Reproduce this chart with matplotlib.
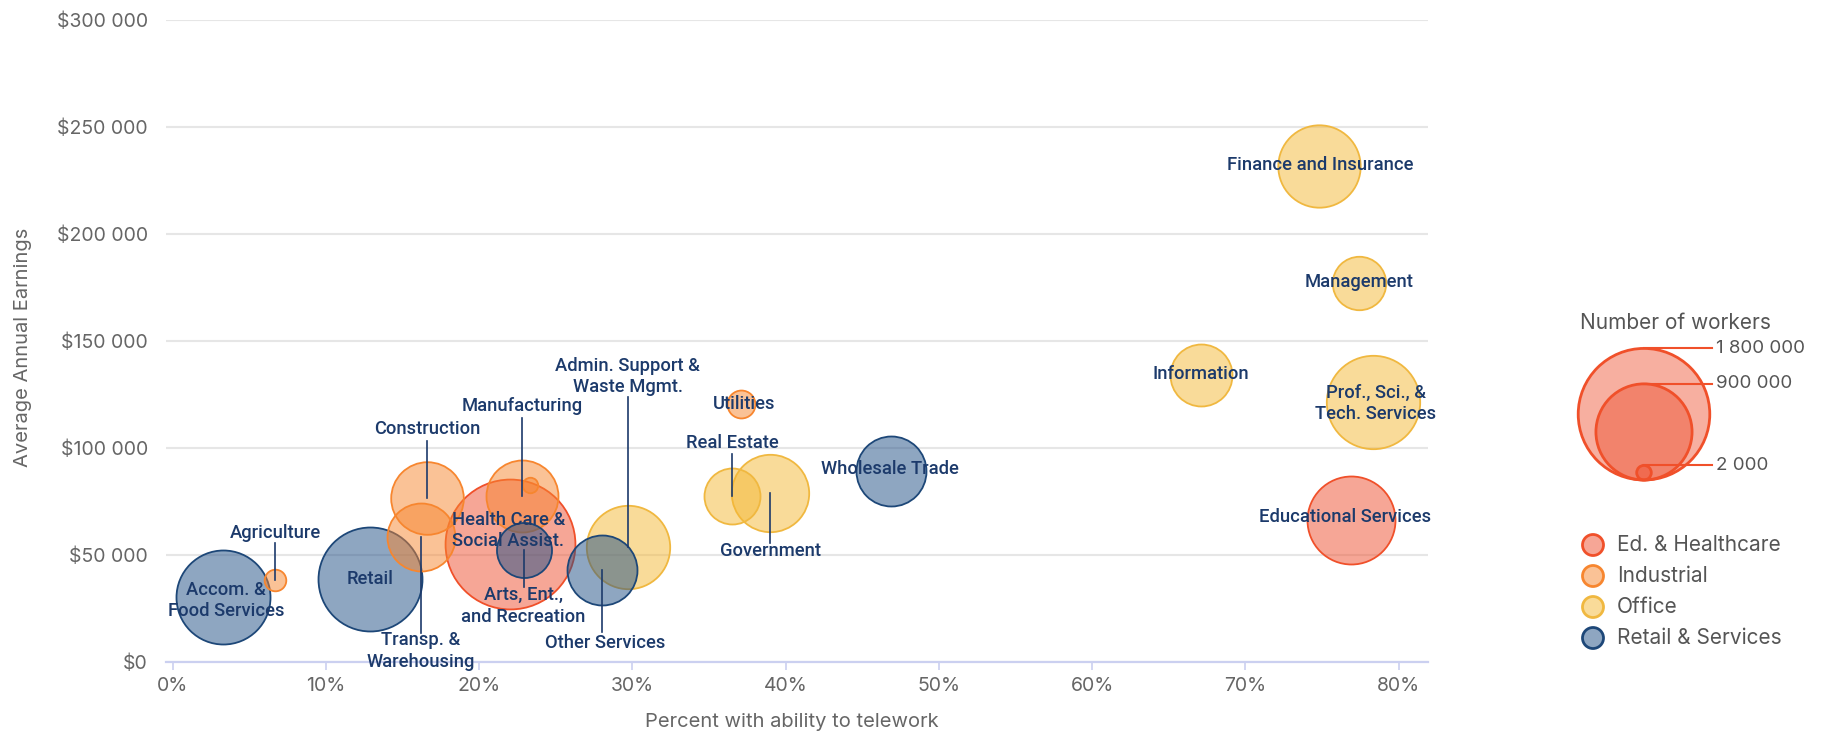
import numpy as np
import matplotlib
matplotlib.use("Agg")
import matplotlib.pyplot as plt
from matplotlib.colors import to_rgba
from matplotlib.patches import Circle

# data
names = ["Accom. &\nFood Services", "Agriculture", "Retail", "Construction",
         "Transp. &\nWarehousing", "Manufacturing", "", "Health Care &\nSocial Assist.",
         "Arts, Ent.,\nand Recreation", "Other Services", "Admin. Support &\nWaste Mgmt.",
         "Utilities", "Real Estate", "Government", "Wholesale Trade", "Information",
         "Finance and Insurance", "Management", "Prof., Sci., &\nTech. Services",
         "Educational Services"]
groups = ["Retail & Services", "Industrial", "Retail & Services", "Industrial",
          "Industrial", "Industrial", "Industrial", "Ed. & Healthcare",
          "Retail & Services", "Retail & Services", "Office",
          "Industrial", "Office", "Office", "Retail & Services", "Office",
          "Office", "Office", "Office", "Ed. & Healthcare"]
telework = [3.3, 6.7, 12.9, 16.6, 16.2, 22.8, 23.3, 22.0, 22.9, 28.0, 29.7,
            37.1, 36.5, 39.0, 46.9, 67.1, 74.8, 77.4, 78.3, 76.9]
earnings = [30100, 38200, 38500, 76400, 58400, 77600, 82600, 55000, 52200, 42900, 53500,
            120300, 77600, 78700, 89100, 134000, 231600, 176800, 121500, 66200]
workers = [856000, 15000, 1073000, 473000, 405000, 464000, 3000, 1750000, 243000, 434000, 652000,
           37000, 254000, 549000, 434000, 325000, 634000, 226000, 843000, 737000]

group_names = ["Ed. & Healthcare", "Industrial", "Office", "Retail & Services"]
size_legend = [1800000, 900000, 2000]
size_legend_labels = ["1 800 000", "900 000", "2 000"]

face = {"Ed. & Healthcare": "#EE4F2E", "Industrial": "#F7862F",
        "Office": "#F5B835", "Retail & Services": "#1F4E85"}
edge = {"Ed. & Healthcare": "#F0502A", "Industrial": "#F7862F",
        "Office": "#F0B840", "Retail & Services": "#1D4778"}
navy = "#1C3A6B"
grey = "#666666"

# label placement: (x, y, end of leader line or None)
label_pos = {
    "Accom. &\nFood Services": (3.5, 28700, None),
    "Agriculture": (6.7, 60300, 55600),
    "Retail": (12.9, 38500, None),
    "Construction": (16.6, 108600, 103100),
    "Transp. &\nWarehousing": (16.2, 5100, 13300),
    "Manufacturing": (22.8, 119600, 114000),
    "Health Care &\nSocial Assist.": (21.9, 61400, None),
    "Arts, Ent.,\nand Recreation": (22.9, 26000, 35000),
    "Other Services": (28.2, 8900, 14000),
    "Admin. Support &\nWaste Mgmt.": (29.7, 133200, 123600),
    "Utilities": (37.3, 120400, None),
    "Real Estate": (36.5, 102100, 96900),
    "Government": (39.0, 51900, 55600),
    "Wholesale Trade": (46.8, 89900, None),
    "Information": (67.1, 134400, None),
    "Finance and Insurance": (74.9, 232100, None),
    "Management": (77.4, 177600, None),
    "Prof., Sci., &\nTech. Services": (78.5, 120800, None),
    "Educational Services": (76.5, 67500, None),
}

W, H, DPI = 1826, 733, 100


def radius_px(v):
    return 5.28 + 0.0451 * np.sqrt(v)


plt.rcParams["font.family"] = ["Inter", "DejaVu Sans"]
fig = plt.figure(figsize=(W / DPI, H / DPI), dpi=DPI)
ax = fig.add_axes([166 / W, (H - 661.7) / H, 1262 / W, 642 / H])

order = np.argsort(workers)[::-1]
for i in order:
    r = radius_px(workers[i]) * 72 / DPI
    ax.scatter(telework[i], earnings[i], s=(2 * r) ** 2,
               color=to_rgba(face[groups[i]], 0.5), edgecolors=edge[groups[i]],
               linewidths=1.3, zorder=3)

for i, name in enumerate(names):
    if not name:
        continue
    lx, ly, lend = label_pos[name]
    if lend is not None:
        ax.plot([telework[i], telework[i]], [earnings[i], lend], color=navy, lw=1.2, zorder=4)
    ax.text(lx, ly, name, ha="center", va="center", color=navy, fontsize=13.2,
            family=["Roboto", "DejaVu Sans"], fontweight="medium", linespacing=1.25, zorder=5)

ax.set_xlim(-0.44, 81.92)
ax.set_ylim(0, 300000)
ax.set_xticks(np.arange(0, 81, 10))
ax.set_xticklabels([f"{t}%" for t in range(0, 81, 10)])
ax.set_yticks(np.arange(0, 300001, 50000))
ax.set_yticklabels(["$0"] + [f"${v:,}".replace(",", " ") for v in range(50000, 300001, 50000)])
ax.grid(axis="y", color="#E6E6E6", lw=1.5, zorder=0)
ax.set_axisbelow(True)
for s in ["top", "right", "left"]:
    ax.spines[s].set_visible(False)
ax.spines["bottom"].set_color("#CBD0F0")
ax.spines["bottom"].set_linewidth(1.6)
ax.tick_params(axis="x", length=6, width=1.2, color="#CBD0F0", pad=5, labelsize=14, labelcolor=grey)
ax.tick_params(axis="y", length=0, pad=13, labelsize=14, labelcolor=grey)
ax.set_xlabel("Percent with ability to telework", fontsize=14.5, color=grey)
ax.set_ylabel("Average Annual Earnings", fontsize=14.5, color=grey)
ax.xaxis.set_label_coords(0.496, -0.08)
ax.yaxis.set_label_coords(-0.106, 0.49)

# legends drawn on an overlay in pixel units
ov = fig.add_axes([0, 0, 1, 1])
ov.set_xlim(0, W)
ov.set_ylim(H, 0)
ov.axis("off")

ov.text(1580, 323, "Number of workers", fontsize=15, color="#555555", va="center", ha="left")
cx, base = 1644, 480
for v, lab in zip(size_legend, size_legend_labels):
    r = radius_px(v)
    ov.add_patch(Circle((cx, base - r), r, facecolor=to_rgba(face["Ed. & Healthcare"], 0.45),
                        edgecolor=edge["Ed. & Healthcare"], lw=2))
    top = base - 2 * r
    ov.plot([cx, 1712], [top, top], color=edge["Ed. & Healthcare"], lw=1.5)
    ov.text(1716, top, lab, fontsize=13.5, color="#555555", va="center", ha="left")

for k, g in enumerate(group_names):
    y = 545 + k * 31
    ov.add_patch(Circle((1593, y), 10.5, facecolor=to_rgba(face[g], 0.5), edgecolor=edge[g], lw=2))
    ov.text(1617, y, g, fontsize=15, color="#555555", va="center", ha="left")

fig.savefig("out.png", dpi=DPI)
